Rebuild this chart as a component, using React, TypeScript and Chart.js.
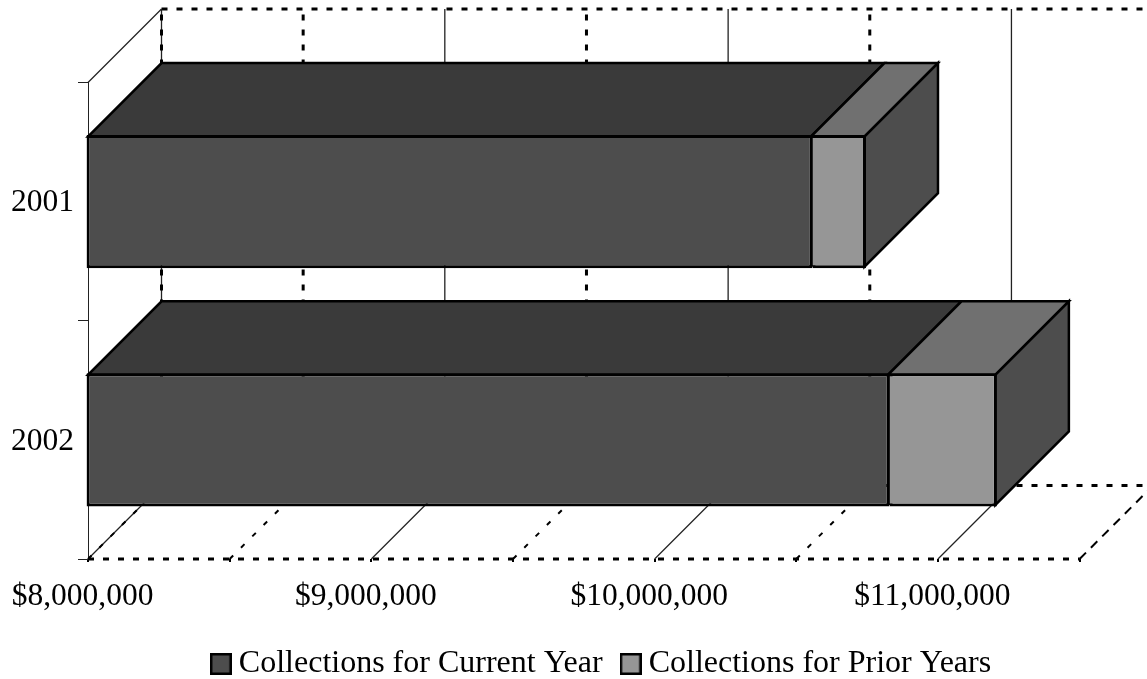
import React, { useEffect, useRef } from "react";
import { Chart, registerables } from "chart.js";

Chart.register(...registerables);

const years = ["2001", "2002"];
const currentYear = [10557000, 10829000];
const priorYears = [189000, 379000];
const axisMin = 8000000;
const axisMax = 11500000;
const axisStep = 500000;
const labelStep = 1000000;
const seriesNames = ["Collections for Current Year", "Collections for Prior Years"];

const FONT = "'Liberation Serif', 'Times New Roman', serif";
const INK = "#000000";
const GRID = "#222222";
const DEPTH = 73.5;
const FRONT_FILL = "#4d4d4d";
const TOP_FILL = "#3a3a3a";
const PRIOR_FILL = "#969696";
const PRIOR_TOP_FILL = "#707070";
const SIDE_FILL = "#4d4d4d";
const EDGE = 3;
const WALL_DASH = [6, 9];
const FLOOR_DASH = [5, 11];
const FLOOR_EDGE_DASH = [9, 7];

// Legend swatch: filled square with a heavy outline.
function swatch(fill: string) {
  const c = document.createElement("canvas");
  c.width = 22;
  c.height = 22;
  const g = c.getContext("2d")!;
  g.fillStyle = INK;
  g.fillRect(0, 0, 22, 22);
  g.fillStyle = fill;
  g.fillRect(2.5, 2.5, 17, 17);
  return c;
}

function solid(ctx: CanvasRenderingContext2D, x0: number, y0: number, x1: number, y1: number) {
  ctx.save();
  ctx.beginPath();
  ctx.moveTo(x0, y0);
  ctx.lineTo(x1, y1);
  ctx.strokeStyle = GRID;
  ctx.lineWidth = 1.3;
  ctx.stroke();
  ctx.restore();
}

function dashed(
  ctx: CanvasRenderingContext2D,
  x0: number,
  y0: number,
  x1: number,
  y1: number,
  dash: number[],
  width: number,
) {
  ctx.save();
  ctx.beginPath();
  ctx.moveTo(x0, y0);
  ctx.lineTo(x1, y1);
  ctx.strokeStyle = INK;
  ctx.lineWidth = width;
  ctx.setLineDash(dash);
  ctx.stroke();
  ctx.restore();
}

function face(ctx: CanvasRenderingContext2D, pts: number[][], fill: string) {
  ctx.beginPath();
  pts.forEach(([x, y], i) => (i ? ctx.lineTo(x, y) : ctx.moveTo(x, y)));
  ctx.closePath();
  ctx.fillStyle = fill;
  ctx.fill();
  ctx.lineWidth = EDGE - 0.5;
  ctx.lineJoin = "miter";
  ctx.strokeStyle = INK;
  ctx.stroke();
}

// Paints the walls and floor of the box, then the top and side faces of each bar.
const depthPlugin = {
  id: "depth",
  afterLayout(chart: any) {
    // The legend row sits to the right of the canvas centre.
    chart.legend.left += 31.5;
    chart.legend.right += 31.5;
  },
  beforeDatasetsDraw(chart: any) {
    const { ctx, chartArea: a, scales } = chart;
    const x = scales.x;
    const top = a.top;
    const bottom = a.bottom;
    const backTop = top - DEPTH;
    const backBottom = bottom - DEPTH;
    ctx.save();

    solid(ctx, a.left, top, a.left + DEPTH, backTop);
    dashed(ctx, a.left + DEPTH, backTop, chart.width, backTop, WALL_DASH, 3);
    dashed(ctx, a.left, bottom, a.right, bottom, WALL_DASH, 3);
    dashed(ctx, a.left + DEPTH, backBottom, chart.width, backBottom, WALL_DASH, 3);
    dashed(ctx, a.right, bottom, a.right + DEPTH, backBottom, FLOOR_EDGE_DASH, 2);

    x.ticks.forEach((t: any) => {
      if (t.value >= axisMax) return;
      const px = x.getPixelForValue(t.value);
      const major = (t.value - axisMin) % labelStep === 0;
      if (major) {
        solid(ctx, px, bottom, px + DEPTH, backBottom);
        solid(ctx, px + DEPTH, backBottom, px + DEPTH, backTop);
      } else {
        dashed(ctx, px, bottom, px + DEPTH, backBottom, FLOOR_DASH, 2);
        dashed(ctx, px + DEPTH, backBottom, px + DEPTH, backTop, WALL_DASH, 3);
      }
    });
    // The corner of the box carries both line styles.
    dashed(ctx, a.left, bottom, a.left + DEPTH, backBottom, FLOOR_DASH, 2);
    dashed(ctx, a.left + DEPTH, backBottom, a.left + DEPTH, backTop, WALL_DASH, 3);

    const lower = chart.getDatasetMeta(0).data;
    const upper = chart.getDatasetMeta(1).data;
    lower.forEach((bar: any, i: number) => {
      const end = upper[i];
      const t = bar.y - bar.height / 2 + EDGE / 2;
      const b = bar.y + bar.height / 2 - EDGE / 2;
      const l = bar.base + EDGE / 2;
      const m = bar.x - EDGE / 2;
      const r = end.x - EDGE / 2;
      face(ctx, [[l, t], [m, t], [m + DEPTH, t - DEPTH], [l + DEPTH, t - DEPTH]], TOP_FILL);
      face(ctx, [[m, t], [r, t], [r + DEPTH, t - DEPTH], [m + DEPTH, t - DEPTH]], PRIOR_TOP_FILL);
      face(ctx, [[r, t], [r + DEPTH, t - DEPTH], [r + DEPTH, b - DEPTH], [r, b]], SIDE_FILL);
      // Dark backing so the seam between the two stacked fronts stays closed.
      ctx.fillStyle = INK;
      ctx.fillRect(m, t, EDGE * 1.5, b - t);
    });
    ctx.restore();
  },
};

export default function App() {
  const ref = useRef<HTMLCanvasElement>(null);
  useEffect(() => {
    const chart = new Chart(ref.current!, {
      type: "bar",
      data: {
        labels: years,
        datasets: [
          {
            label: seriesNames[0],
            data: currentYear,
            base: axisMin - 5000,
            clip: false,
            backgroundColor: FRONT_FILL,
            borderColor: INK,
            borderWidth: EDGE,
            borderSkipped: false,
            barPercentage: 133.5 / 238.75,
            categoryPercentage: 1,
            stack: "total",
            pointStyle: swatch(FRONT_FILL),
          } as any,
          {
            label: seriesNames[1],
            data: priorYears,
            clip: false,
            backgroundColor: PRIOR_FILL,
            borderColor: INK,
            borderWidth: EDGE,
            borderSkipped: "left",
            barPercentage: 133.5 / 238.75,
            categoryPercentage: 1,
            stack: "total",
            pointStyle: swatch(PRIOR_FILL),
          } as any,
        ],
      },
      plugins: [depthPlugin],
      options: {
        indexAxis: "y",
        responsive: false,
        animation: false,
        layout: { padding: { top: 82.5, left: 0, right: 0, bottom: -11 } },
        plugins: {
          title: { display: false },
          tooltip: { enabled: false },
          legend: {
            display: true,
            position: "bottom",
            labels: {
              usePointStyle: true,
              pointStyleWidth: 4,
              padding: 26,
              color: INK,
              font: { family: FONT, size: 32 },
            },
          },
        },
        scales: {
          x: {
            type: "linear",
            stacked: true,
            min: axisMin,
            max: axisMax,
            afterFit(s: any) {
              s.height = 63;
              s.paddingRight = 67.4;
            },
            afterBuildTicks(s: any) {
              s.ticks = [];
              for (const v of [0, 1, 2, 3, 4, 5, 6, 7]) s.ticks.push({ value: axisMin + v * axisStep });
            },
            grid: { display: true, drawOnChartArea: false, drawTicks: true, tickLength: 3, color: INK, lineWidth: 2 },
            border: { display: false },
            ticks: {
              autoSkip: false,
              maxRotation: 0,
              color: INK,
              padding: 16,
              labelOffset: -5.5,
              font: { family: FONT, size: 31.5 },
              callback(v: any) {
                const n = Number(v);
                if ((n - axisMin) % labelStep !== 0) return "";
                return "$" + n.toLocaleString("en-US");
              },
            },
          },
          y: {
            type: "category",
            stacked: true,
            afterFit(s: any) {
              s.width = 88;
            },
            grid: { display: true, offset: true, drawOnChartArea: false, drawTicks: true, tickLength: 10, color: GRID, lineWidth: 1 },
            border: { display: true, color: GRID, width: 1 },
            ticks: {
              color: INK,
              padding: 4,
              autoSkip: false,
              labelOffset: 1.5,
              font: { family: FONT, size: 31.5 },
            },
          },
        },
      } as any,
    });
    return () => chart.destroy();
  }, []);
  return (
    <canvas
      ref={ref}
      width={1147}
      height={679}
      style={{ position: "absolute", left: 0, top: 0, display: "block" }}
    />
  );
}
